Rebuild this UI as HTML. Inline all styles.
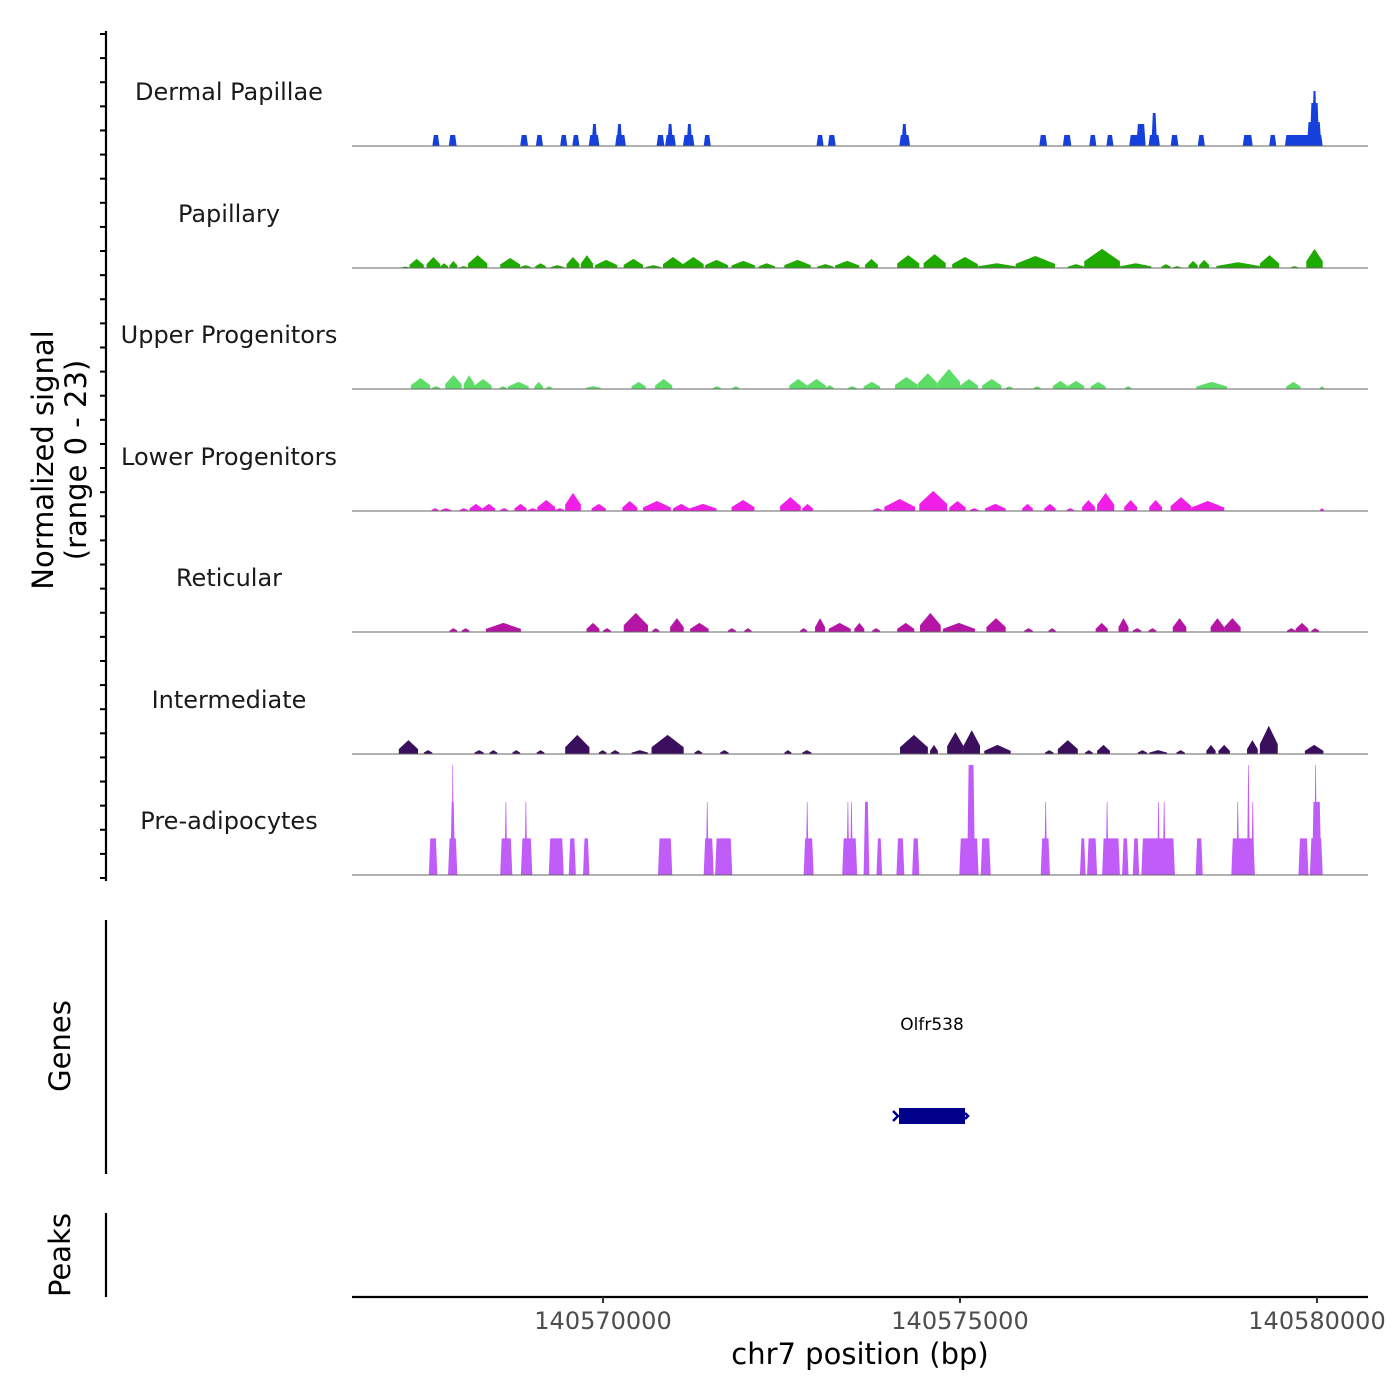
<!DOCTYPE html>
<html><head><meta charset="utf-8"><style>
html,body{margin:0;padding:0;background:#fff;}
svg{display:block;font-family:"DejaVu Sans","Liberation Sans",sans-serif;}
</style></head><body>
<svg id="chart" width="1400" height="1400" viewBox="0 0 1400 1400" xmlns="http://www.w3.org/2000/svg">
<rect width="1400" height="1400" fill="#fff"/>
<g id="tracks"></g>
<g id="yaxis"></g>
<text transform="translate(53,460) rotate(-90)" text-anchor="middle" font-size="29" fill="#000">Normalized signal</text>
<text transform="translate(86,460) rotate(-90)" text-anchor="middle" font-size="29" fill="#000">(range 0 - 23)</text>
<line x1="106" y1="920" x2="106" y2="1174" stroke="#000" stroke-width="2.2"/>
<text transform="translate(70,1046) rotate(-90)" text-anchor="middle" font-size="29" fill="#000">Genes</text>
<g id="genes"></g>
<line x1="106" y1="1213" x2="106" y2="1297" stroke="#000" stroke-width="2.2"/>
<text transform="translate(70,1255) rotate(-90)" text-anchor="middle" font-size="29" fill="#000">Peaks</text>
<g id="xaxis"></g>
<text x="860" y="1364" text-anchor="middle" font-size="29" fill="#000">chr7 position (bp)</text>
</svg>
<script>
// Data (positions in kb on chr7, values = normalized signal)
const trackNames = ["Dermal Papillae","Papillary","Upper Progenitors","Lower Progenitors","Reticular","Intermediate","Pre-adipocytes"];
const trackColors = ["#1640DC","#1FAA00","#5EDC68","#F01FE8","#B515A4","#3B0F5E","#C05CF7"];
const trackShapes = ["block","hill","hill","hill","hill","hill","block"];
const dermalPapillae = [[140567.61,140567.71,2.3],[140567.84,140567.95,2.3],[140568.84,140568.95,2.3],[140569.06,140569.16,2.3],[140569.40,140569.50,2.3],[140569.57,140569.67,2.3],[140569.80,140569.95,2.3],[140569.84,140569.92,4.6],[140570.17,140570.32,2.3],[140570.19,140570.27,4.6],[140570.75,140570.86,2.3],[140570.87,140571.02,2.3],[140570.90,140570.98,4.6],[140571.12,140571.28,2.3],[140571.17,140571.25,4.6],[140571.41,140571.51,2.3],[140572.99,140573.09,2.3],[140573.15,140573.26,2.3],[140574.15,140574.30,2.3],[140574.18,140574.26,4.6],[140576.11,140576.22,2.3],[140576.44,140576.56,2.3],[140576.81,140576.91,2.3],[140577.05,140577.15,2.3],[140577.37,140577.60,2.3],[140577.47,140577.60,4.6],[140577.64,140577.80,2.3],[140577.68,140577.76,6.9],[140577.95,140578.06,2.3],[140578.33,140578.43,2.3],[140578.96,140579.10,2.3],[140579.33,140579.43,2.3],[140579.55,140580.08,2.3],[140579.86,140580.06,5],[140579.90,140580.03,9],[140579.93,140580.00,11.5]];
const papillary = [[140567.17,140567.29,0.3],[140567.29,140567.49,1.9],[140567.53,140567.72,2.3],[140567.72,140567.83,1.0],[140567.85,140567.96,1.5],[140567.99,140568.11,0.4],[140568.11,140568.38,2.7],[140568.56,140568.84,2.1],[140568.84,140568.99,0.6],[140569.05,140569.20,1.0],[140569.27,140569.45,0.6],[140569.49,140569.67,2.3],[140569.69,140569.86,2.7],[140569.89,140570.20,1.7],[140570.29,140570.56,1.9],[140570.60,140570.81,0.6],[140570.84,140571.12,2.3],[140571.12,140571.41,2.3],[140571.43,140571.75,1.7],[140571.80,140572.13,1.5],[140572.18,140572.41,1.0],[140572.54,140572.91,1.7],[140573.00,140573.23,0.8],[140573.25,140573.59,1.5],[140573.67,140573.85,1.9],[140574.12,140574.43,2.7],[140574.49,140574.80,2.9],[140574.89,140575.25,2.3],[140575.25,140575.78,1.0],[140575.78,140576.33,2.5],[140576.51,140576.74,0.8],[140576.74,140577.24,4.0],[140577.24,140577.68,1.0],[140577.82,140577.95,0.8],[140577.98,140578.10,0.4],[140578.20,140578.33,1.5],[140578.35,140578.49,1.7],[140578.59,140579.20,1.2],[140579.20,140579.47,2.7],[140579.63,140579.74,0.4],[140579.85,140580.08,4.0]];
const upperProgenitors = [[140567.31,140567.58,2.3],[140567.60,140567.72,0.6],[140567.79,140568.02,2.9],[140568.05,140568.20,2.9],[140568.20,140568.44,2.1],[140568.55,140568.65,0.6],[140568.67,140568.96,1.5],[140569.04,140569.16,1.5],[140569.20,140569.29,0.6],[140569.75,140569.97,0.6],[140570.40,140570.60,1.5],[140570.73,140570.97,2.1],[140571.54,140571.65,0.6],[140571.81,140571.91,0.6],[140572.61,140572.86,2.1],[140572.86,140573.12,2.1],[140573.12,140573.23,0.8],[140573.43,140573.55,0.6],[140573.65,140573.88,1.5],[140574.09,140574.41,2.5],[140574.41,140574.69,3.3],[140574.69,140575.00,4.2],[140575.00,140575.25,2.1],[140575.31,140575.58,2.1],[140575.64,140575.74,0.6],[140576.03,140576.13,0.6],[140576.30,140576.51,1.7],[140576.51,140576.74,1.7],[140576.83,140577.04,1.5],[140577.31,140577.40,0.6],[140578.31,140578.74,1.5],[140579.57,140579.77,1.5],[140580.04,140580.10,0.6]];
const lowerProgenitors = [[140567.60,140567.70,0.6],[140567.73,140567.87,0.6],[140567.99,140568.11,0.6],[140568.13,140568.31,1.5],[140568.31,140568.49,1.5],[140568.56,140568.67,0.6],[140568.76,140568.93,1.5],[140568.95,140569.08,0.6],[140569.08,140569.33,2.3],[140569.33,140569.46,0.6],[140569.47,140569.69,3.8],[140569.84,140570.04,1.5],[140570.27,140570.48,2.1],[140570.56,140570.95,2.1],[140570.98,140571.21,1.5],[140571.21,140571.59,1.5],[140571.80,140572.12,2.3],[140572.48,140572.77,2.9],[140572.79,140572.94,1.5],[140573.78,140573.91,0.6],[140573.94,140574.37,2.5],[140574.43,140574.82,4.2],[140574.85,140575.08,2.1],[140575.14,140575.26,0.6],[140575.35,140575.64,1.5],[140575.87,140576.02,1.5],[140576.18,140576.34,1.5],[140576.49,140576.60,0.6],[140576.71,140576.89,2.3],[140576.92,140577.16,3.8],[140577.30,140577.48,2.3],[140577.65,140577.83,2.3],[140577.95,140578.24,2.9],[140578.24,140578.70,2.1],[140580.04,140580.10,0.6]];
const reticular = [[140567.85,140567.96,0.8],[140568.02,140568.13,0.8],[140568.36,140568.85,1.9],[140569.77,140569.95,1.9],[140570.00,140570.11,0.8],[140570.29,140570.63,4.0],[140570.69,140570.79,0.8],[140570.94,140571.13,2.9],[140571.22,140571.48,1.9],[140571.75,140571.86,0.8],[140571.98,140572.08,0.8],[140572.76,140572.86,0.8],[140572.97,140573.11,2.9],[140573.16,140573.47,1.9],[140573.52,140573.66,1.9],[140573.77,140573.88,0.8],[140574.12,140574.36,1.9],[140574.44,140574.73,4.0],[140574.76,140575.21,1.9],[140575.37,140575.64,2.9],[140575.90,140576.02,0.8],[140576.24,140576.34,0.8],[140576.90,140577.07,1.9],[140577.22,140577.36,2.9],[140577.42,140577.54,0.8],[140577.64,140577.75,0.8],[140577.98,140578.17,2.9],[140578.51,140578.70,2.9],[140578.70,140578.93,2.9],[140579.58,140579.70,0.8],[140579.70,140579.88,1.9],[140579.92,140580.03,0.8]];
const intermediate = [[140567.14,140567.41,2.9],[140567.49,140567.61,0.8],[140568.20,140568.33,0.8],[140568.41,140568.52,0.8],[140568.73,140568.84,0.8],[140569.07,140569.18,0.8],[140569.47,140569.81,4.0],[140569.94,140570.05,0.8],[140570.11,140570.23,0.8],[140570.40,140570.63,0.8],[140570.68,140571.13,4.0],[140571.28,140571.39,0.8],[140571.64,140571.76,0.8],[140572.54,140572.64,0.8],[140572.79,140572.92,0.8],[140574.16,140574.55,4.0],[140574.58,140574.69,1.9],[140574.82,140575.05,4.6],[140575.05,140575.28,5.0],[140575.34,140575.71,1.9],[140576.19,140576.31,0.8],[140576.37,140576.65,2.9],[140576.75,140576.86,0.8],[140576.92,140577.10,1.9],[140577.49,140577.62,0.8],[140577.65,140577.90,0.8],[140578.03,140578.15,0.8],[140578.45,140578.58,1.9],[140578.62,140578.78,1.9],[140579.02,140579.17,2.9],[140579.20,140579.45,5.9],[140579.83,140580.09,1.9]];
const preAdipocytes = [[140567.56,140567.68,7.67],[140567.83,140567.96,7.67],[140567.86,140567.93,15.3],[140567.88,140567.91,23],[140568.56,140568.73,7.67],[140568.62,140568.66,15.3],[140568.85,140569.01,7.67],[140568.90,140568.94,15.3],[140569.24,140569.45,7.67],[140569.52,140569.62,7.67],[140569.72,140569.81,7.67],[140570.77,140570.97,7.67],[140571.41,140571.55,7.67],[140571.44,140571.48,15.3],[140571.57,140571.81,7.67],[140572.81,140572.95,7.67],[140572.84,140572.88,15.3],[140573.35,140573.56,7.67],[140573.41,140573.45,15.3],[140573.46,140573.50,15.3],[140573.65,140573.73,15.3],[140573.83,140573.91,7.67],[140574.11,140574.22,7.67],[140574.33,140574.43,7.67],[140574.99,140575.26,7.67],[140575.10,140575.21,23],[140575.29,140575.43,7.67],[140576.13,140576.26,7.67],[140576.18,140576.22,15.3],[140576.68,140576.76,7.67],[140576.78,140576.92,7.67],[140576.99,140577.24,7.67],[140577.04,140577.08,15.3],[140577.27,140577.36,7.67],[140577.42,140577.51,7.67],[140577.54,140577.77,7.67],[140577.72,140578.01,7.67],[140577.76,140577.80,15.3],[140577.84,140577.88,15.3],[140578.30,140578.40,7.67],[140578.80,140579.13,7.67],[140578.87,140578.91,15.3],[140579.02,140579.06,23],[140579.08,140579.12,15.3],[140579.74,140579.88,7.67],[140579.90,140580.08,7.67],[140579.93,140580.06,15.3],[140579.96,140580.00,23]];
const trackData = [dermalPapillae,papillary,upperProgenitors,lowerProgenitors,reticular,intermediate,preAdipocytes];
const xTicks = [140570000,140575000,140580000];
const xTickLabels = ["140570000","140575000","140580000"];
const geneNames = ["Olfr538"];
const geneStarts = [140574146];
const geneEnds = [140575070];
const yMax = 23;

const NS="http://www.w3.org/2000/svg";
const X0=352,X1=1368;
function xs(bp){ return 603 + (bp-140570000)*0.071400; }
const baselines=[146,268,389,511,632,754,875];
const trackH=110;
function yScale(v,i){ return baselines[i] - v/yMax*trackH; }
function mk(tag,attrs,parent){const e=document.createElementNS(NS,tag);for(const k in attrs)e.setAttribute(k,attrs[k]);parent.appendChild(e);return e;}

const tracks=document.getElementById('tracks');
trackData.forEach((data,i)=>{
  const g=mk('g',{},tracks);
  
  
  const lbl=mk('text',{x:229,y:baselines[i]-46,'text-anchor':'middle','font-size':'24',fill:'#1a1a1a'},g);
  lbl.textContent=trackNames[i];
  
  
  data.forEach(d=>{
    const s=xs(d[0]*1000), e=xs(d[1]*1000), y0=baselines[i], y=yScale(d[2],i);
    let pts;
    if(trackShapes[i]==='block'){
      const ins=Math.min(1.5,(e-s)/2-0.3);
      pts=[[s,y0],[s+ins,y],[e-ins,y],[e,y0]];
    } else {
      const lo=y0-(y0-y)*0.35, m=(s+e)/2;
      pts=[[s,y0],[s,lo],[m,y],[e,lo],[e,y0]];
    }
    const p=mk('polygon',{points:pts.map(q=>q[0].toFixed(2)+','+q[1].toFixed(2)).join(' '),fill:trackColors[i]},g);
    
    
  });
  const bl=mk('line',{x1:X0,x2:X1,y1:baselines[i],y2:baselines[i],stroke:'#666','stroke-width':1},g);
  
  
});

const ya=document.getElementById('yaxis');
const al=mk('line',{x1:106,x2:106,y1:31,y2:881,stroke:'#000','stroke-width':2.2},ya);


for(let k=0;k<36;k++){
  const y=34+k*(844/35);
  const t=mk('line',{x1:100,x2:106,y1:y,y2:y,stroke:'#000','stroke-width':2},ya);
  
  
}

const gg=document.getElementById('genes');
geneNames.forEach((n,i)=>{
  const s=xs(geneStarts[i]), e=xs(geneEnds[i]);
  const t=mk('text',{x:(s+e)/2,y:1030,'text-anchor':'middle','font-size':'17',fill:'#000'},gg);
  t.textContent=n;
  
  
  const r=mk('rect',{x:s,y:1108,width:e-s,height:16,fill:'#00008B'},gg);
  
  
  const c=mk('path',{d:`M${s-6},1111 L${s-1},1116 L${s-6},1121 M${e},1113 L${e+3},1116 L${e},1119`,stroke:'#00008B','stroke-width':2.5,fill:'none'},gg);
  
  
});

const xa=document.getElementById('xaxis');
const xl=mk('line',{x1:X0,x2:X1,y1:1297,y2:1297,stroke:'#000','stroke-width':2.2},xa);


xTicks.forEach((v,i)=>{
  const x=xs(v);
  const t=mk('line',{x1:x,x2:x,y1:1297,y2:1303,stroke:'#333','stroke-width':2},xa);
  
  
  const l=mk('text',{x:x,y:1329,'text-anchor':'middle','font-size':'24',fill:'#4d4d4d'},xa);
  l.textContent=xTickLabels[i];
  
  
});
</script>
</body></html>
